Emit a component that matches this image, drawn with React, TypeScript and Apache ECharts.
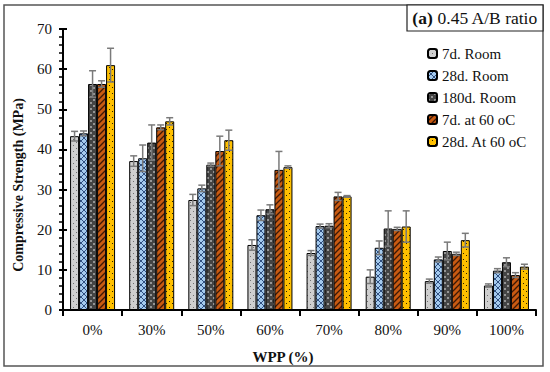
import React, { useEffect, useRef } from "react";
import * as echarts from "echarts";

const categories = ["0%", "30%", "50%", "60%", "70%", "80%", "90%", "100%"];
const seriesNames = ["7d. Room", "28d. Room", "180d. Room", "7d. at 60 oC", "28d. At 60 oC"];

const room7 = [43.3, 37.1, 27.4, 16.2, 14.2, 8.3, 7.2, 6.1];
const room7Err = [1.2, 1.3, 1.4, 1.3, 0.6, 1.7, 0.5, 0.4];
const room28 = [44.0, 37.8, 30.3, 23.6, 20.9, 15.5, 12.6, 9.8];
const room28Err = [0.6, 3.3, 0.8, 1.3, 0.5, 1.7, 0.6, 0.5];
const room180 = [56.3, 41.7, 36.2, 25.1, 21.0, 20.3, 14.7, 11.9];
const room180Err = [3.3, 4.4, 0.4, 1.1, 0.5, 4.4, 2.2, 1.1];
const heat7 = [56.3, 45.5, 39.6, 34.9, 28.3, 20.2, 14.0, 8.7];
const heat7Err = [0.8, 0.6, 3.7, 4.6, 1.0, 0.4, 0.4, 0.6];
const heat28 = [61.0, 47.0, 42.3, 35.6, 28.3, 20.8, 17.4, 10.8];
const heat28Err = [4.2, 0.9, 2.5, 0.3, 0.2, 3.9, 1.7, 0.6];

const values = [room7, room28, room180, heat7, heat28];
const errors = [room7Err, room28Err, room180Err, heat7Err, heat28Err];

const SERIF = "Liberation Serif";

function makePattern(kind: number): HTMLCanvasElement {
  const c = document.createElement("canvas");
  const s = 6;
  c.width = s;
  c.height = s;
  const g = c.getContext("2d") as CanvasRenderingContext2D;
  if (kind === 0) {
    g.fillStyle = "#cfcfcf";
    g.fillRect(0, 0, s, s);
    g.fillStyle = "#6e6e6e";
    g.fillRect(1, 1, 1, 1);
    g.fillRect(4, 4, 1, 1);
  } else if (kind === 1) {
    g.fillStyle = "#a4caee";
    g.fillRect(0, 0, s, s);
    g.strokeStyle = "#2f4f80";
    g.lineWidth = 1;
    g.beginPath();
    g.moveTo(0, 0);
    g.lineTo(s, s);
    g.moveTo(s, 0);
    g.lineTo(0, s);
    g.stroke();
  } else if (kind === 2) {
    g.fillStyle = "#444444";
    g.fillRect(0, 0, s, s);
    g.fillStyle = "#959595";
    g.fillRect(0, 0, 2, 2);
    g.fillRect(3, 3, 2, 2);
  } else if (kind === 3) {
    g.fillStyle = "#c85a12";
    g.fillRect(0, 0, s, s);
    g.strokeStyle = "#3b1806";
    g.lineWidth = 1.3;
    g.beginPath();
    g.moveTo(0, s);
    g.lineTo(s, 0);
    g.moveTo(-3, 3);
    g.lineTo(3, -3);
    g.moveTo(3, s + 3);
    g.lineTo(s + 3, 3);
    g.stroke();
  } else {
    g.fillStyle = "#ffc000";
    g.fillRect(0, 0, s, s);
    g.fillStyle = "#2a2000";
    g.fillRect(1, 1, 1, 1);
    g.fillRect(4, 3, 1, 1);
  }
  return c;
}

export default function App() {
  const ref = useRef<HTMLDivElement>(null);
  useEffect(() => {
    if (!ref.current) return;
    const chart = echarts.init(ref.current, null, { renderer: "svg" });
    const barWidth = 9;
    const barSeries = seriesNames.map((name, i) => ({
      name,
      type: "bar",
      barWidth,
      barGap: "0%",
      data: values[i],
      itemStyle: {
        color: { image: makePattern(i), repeat: "repeat" },
        borderColor: "#000",
        borderWidth: 1,
      },
      z: 2,
    }));
    const errSeries = seriesNames.map((name, i) => ({
      name: "err" + i,
      type: "custom",
      z: 5,
      data: values[i].map((v, k) => [k, v, errors[i][k]]),
      encode: { x: 0, y: 1 },
      renderItem: (params: any, api: any) => {
        const k = api.value(0);
        const v = api.value(1);
        const e = api.value(2);
        const top = api.coord([k, v + e]);
        const bot = api.coord([k, v - e]);
        const x = top[0] + (i - 2) * barWidth;
        const cap = 3.5;
        const style = { stroke: "#7a7a7a", lineWidth: 1.5 };
        return {
          type: "group",
          children: [
            { type: "line", shape: { x1: x, y1: top[1], x2: x, y2: bot[1] }, style },
            { type: "line", shape: { x1: x - cap, y1: top[1], x2: x + cap, y2: top[1] }, style },
            { type: "line", shape: { x1: x - cap, y1: bot[1], x2: x + cap, y2: bot[1] }, style },
          ],
        };
      },
    }));
    chart.setOption({
      animation: false,
      backgroundColor: "#fff",
      textStyle: { fontFamily: SERIF },
      grid: { left: 63, right: 14, top: 29, bottom: 62, containLabel: false },
      legend: {
        data: seriesNames,
        orient: "vertical",
        left: 427,
        top: 46,
        padding: 0,
        itemWidth: 9,
        itemHeight: 9,
        itemGap: 7,
        textStyle: { fontFamily: SERIF, fontSize: 15, color: "#111" },
      },
      xAxis: {
        type: "category",
        data: categories,
        axisLine: { lineStyle: { color: "#000", width: 2 } },
        axisTick: { show: true, length: 6, lineStyle: { color: "#000", width: 2 } },
        axisLabel: { fontFamily: SERIF, fontSize: 15, color: "#111", margin: 12 },
      },
      yAxis: [
        {
          type: "value",
          min: 0,
          max: 70,
          interval: 10,
          position: "left",
          axisLine: { show: true, lineStyle: { color: "#000", width: 2 } },
          axisTick: { show: true, length: 4, lineStyle: { color: "#000", width: 2 } },
          minorTick: { show: true, splitNumber: 5, length: 4, lineStyle: { color: "#000", width: 1.5 } },
          splitLine: { show: false },
          axisLabel: { fontFamily: SERIF, fontSize: 15, color: "#111", margin: 11 },
        },
        {
          type: "value",
          min: 0,
          max: 70,
          interval: 10,
          position: "left",
          axisLine: { show: false },
          axisTick: { show: true, inside: true, length: 4, lineStyle: { color: "#000", width: 2 } },
          splitLine: { show: false },
          axisLabel: { show: false },
        },
      ],
      series: [...barSeries, ...errSeries],
      graphic: [
        {
          type: "rect",
          shape: { x: 4, y: 5, width: 539, height: 361 },
          style: { fill: "none", stroke: "#555", lineWidth: 1.5 },
          z: 100,
        },
        {
          type: "rect",
          shape: { x: 407, y: 5, width: 136, height: 26 },
          style: { fill: "#fff", stroke: "#222", lineWidth: 1.2 },
          z: 100,
        },
        {
          type: "text",
          x: 475,
          y: 18,
          z: 101,
          style: {
            text: "{b|(a)} 0.45 A/B ratio",
            align: "center",
            verticalAlign: "middle",
            fontFamily: SERIF,
            fontSize: 17.5,
            fill: "#111",
            rich: { b: { fontWeight: "bold", fontFamily: SERIF, fontSize: 17.5, fill: "#111" } },
          },
        },
        {
          type: "text",
          x: 18,
          y: 185,
          rotation: Math.PI / 2,
          z: 100,
          style: {
            text: "Compressive Strength (MPa)",
            align: "center",
            verticalAlign: "middle",
            fontFamily: SERIF,
            fontSize: 14,
            fontWeight: "bold",
            fill: "#111",
          },
        },
        {
          type: "text",
          x: 283,
          y: 357,
          z: 100,
          style: {
            text: "WPP (%)",
            align: "center",
            verticalAlign: "middle",
            fontFamily: SERIF,
            fontSize: 15,
            fontWeight: "bold",
            fill: "#111",
          },
        },
      ],
    });
    return () => chart.dispose();
  }, []);
  return (
    <div
      ref={ref}
      style={{ position: "fixed", left: 0, top: 0, width: 550, height: 372 }}
    />
  );
}
